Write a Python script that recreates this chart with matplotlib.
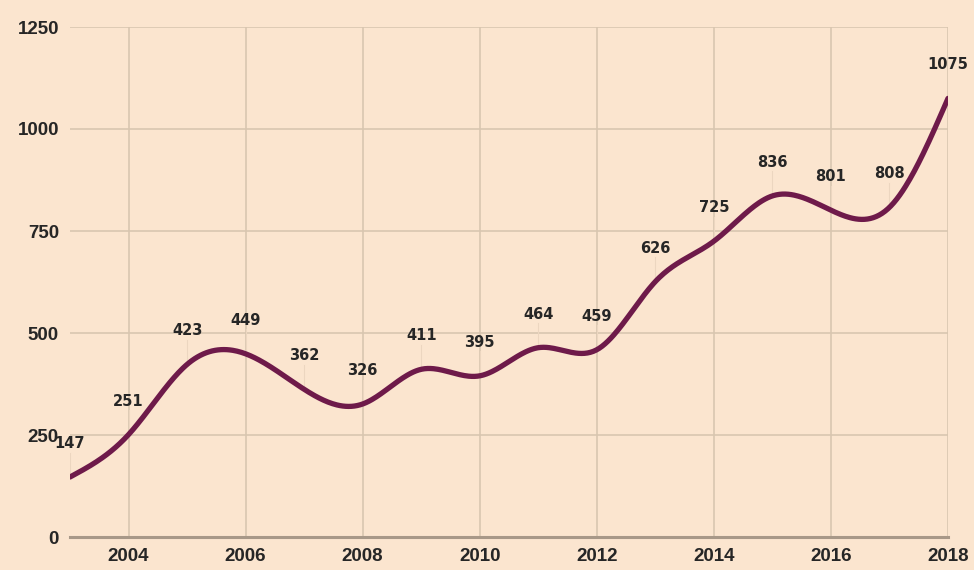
import matplotlib
matplotlib.use("Agg")
import matplotlib.pyplot as plt
import numpy as np

years = [2003, 2004, 2005, 2006, 2007, 2008, 2009, 2010,
         2011, 2012, 2013, 2014, 2015, 2016, 2017, 2018]
values = [147, 251, 423, 449, 362, 326, 411, 395,
          464, 459, 626, 725, 836, 801, 808, 1075]
x_ticks = [2004, 2006, 2008, 2010, 2012, 2014, 2016, 2018]
y_ticks = [0, 250, 500, 750, 1000, 1250]

BG = "#fbe5cf"
LINE = "#6e1a4a"
GRID = "#d9c6b0"
TEXT = "#262626"


def natural_spline(x, y, n=600):
    """Natural cubic spline through the points, only used to draw a smooth curve."""
    x = np.asarray(x, float)
    y = np.asarray(y, float)
    k = len(x)
    h = np.diff(x)
    A = np.zeros((k, k))
    b = np.zeros(k)
    A[0, 0] = A[-1, -1] = 1
    for i in range(1, k - 1):
        A[i, i - 1] = h[i - 1]
        A[i, i] = 2 * (h[i - 1] + h[i])
        A[i, i + 1] = h[i]
        b[i] = 3 * ((y[i + 1] - y[i]) / h[i] - (y[i] - y[i - 1]) / h[i - 1])
    c = np.linalg.solve(A, b)
    xs = np.linspace(x[0], x[-1], n)
    idx = np.clip(np.searchsorted(x, xs) - 1, 0, k - 2)
    dx = xs - x[idx]
    hi = h[idx]
    bi = (y[idx + 1] - y[idx]) / hi - hi * (2 * c[idx] + c[idx + 1]) / 3
    di = (c[idx + 1] - c[idx]) / (3 * hi)
    ys = y[idx] + bi * dx + c[idx] * dx ** 2 + di * dx ** 3
    return xs, ys


fig = plt.figure(figsize=(9.74, 5.70), dpi=100, facecolor=BG)
ax = fig.add_axes([70 / 974, 1 - 537 / 570, (948 - 70) / 974, (537 - 27) / 570])
ax.set_facecolor(BG)

xs, ys = natural_spline(years, values)
ax.plot(xs, ys, color=LINE, lw=3.8, solid_capstyle="round", zorder=3)

# value labels with thin leader lines
for x, v in zip(years, values):
    ax.plot([x, x], [v, v + 60], color="#ecd6c0", lw=0.8, zorder=2)
    ax.text(x, v + 82, f"{v}", ha="center", va="center", fontsize=10.5,
            fontweight="bold", color=TEXT, family="DejaVu Sans", zorder=4)

ax.set_xlim(2003, 2018)
ax.set_ylim(0, 1250)
ax.set_xticks(x_ticks)
ax.set_yticks(y_ticks)
ax.grid(True, color=GRID, lw=1.2, zorder=1)
ax.tick_params(length=0, pad=8, labelsize=13.5, colors=TEXT)
for lbl in ax.get_xticklabels() + ax.get_yticklabels():
    lbl.set_fontweight("bold")
    lbl.set_family("Liberation Sans")
for side in ["top", "right", "left"]:
    ax.spines[side].set_visible(False)
ax.spines["bottom"].set_color("#a89888")
ax.spines["bottom"].set_linewidth(2.2)

fig.savefig("out.png", dpi=100, facecolor=BG)
